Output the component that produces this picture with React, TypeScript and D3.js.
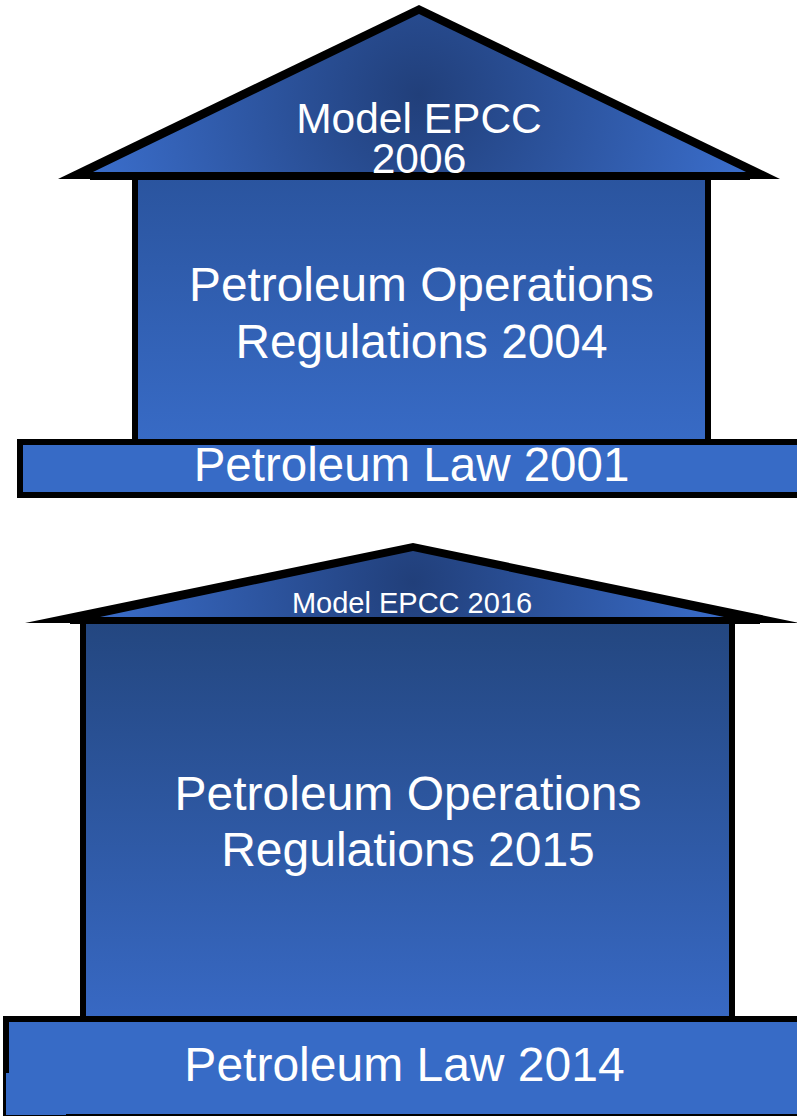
import React from "react";
import * as d3 from "d3";

const roofLabels: string[][] = [["Model EPCC", "2006"], ["Model EPCC 2016"]];
const bodyLabels: string[][] = [
  ["Petroleum Operations", "Regulations 2004"],
  ["Petroleum Operations", "Regulations 2015"],
];
const baseLabels: string[] = ["Petroleum Law 2001", "Petroleum Law 2014"];

// layout (pixels)
const houses = [
  {
    roofOuter: [[58, 179], [419, 5], [780, 179]],
    roofInner: [[93, 172], [419, 14], [746, 172]],
    roofBand: { x1: 90, x2: 750, y: 172, h: 8 },
    roofText: { x: 419, y: 133, size: 42.5, lh: 40 },
    body: { x: 132, y: 172, w: 579, h: 274 },
    bodyText: { x: 421.5, y: 301, size: 47.8, lh: 57 },
    bodyGrad: ["#2a549e", "#386bc6"],
    base: { x: 17, y: 439, w: 800, h: 59 },
    baseText: { x: 411.5, y: 481, size: 47.5 },
  },
  {
    roofOuter: [[25, 623], [413, 543], [800, 623]],
    roofInner: [[100, 617], [413, 551], [724, 617]],
    roofBand: { x1: 70, x2: 760, y: 617, h: 7 },
    roofText: { x: 412, y: 613, size: 29, lh: 0 },
    body: { x: 80, y: 617, w: 655, h: 405 },
    bodyText: { x: 408, y: 810, size: 48, lh: 56 },
    bodyGrad: ["#23467f", "#3869c4"],
    base: { x: 3, y: 1016, w: 800, h: 104 },
    baseText: { x: 404.5, y: 1081, size: 48 },
  },
];

const FONT = "'Liberation Sans', Arial, sans-serif";

export default function App() {
  const line = d3.line<number[]>().x((d) => d[0]).y((d) => d[1]).curve(d3.curveLinearClosed);
  return (
    <div style={{ position: "absolute", left: 0, top: 0 }}>
      <svg width={797} height={1116} style={{ display: "block" }}>
        <defs>
          <radialGradient id="roof0" gradientUnits="userSpaceOnUse" cx={419} cy={95} r={330}>
            <stop offset="0" stopColor="#213f7a" />
            <stop offset="1" stopColor="#3a6dca" />
          </radialGradient>
          <radialGradient id="roof1" gradientUnits="userSpaceOnUse" cx={413} cy={582} r={320}>
            <stop offset="0" stopColor="#213f7a" />
            <stop offset="1" stopColor="#3a6dca" />
          </radialGradient>
          {houses.map((h, i) => (
            <linearGradient key={i} id={`body${i}`} x1="0" y1="0" x2="0" y2="1">
              <stop offset="0" stopColor={h.bodyGrad[0]} />
              <stop offset="1" stopColor={h.bodyGrad[1]} />
            </linearGradient>
          ))}
        </defs>
        {houses.map((h, i) => (
          <g key={i}>
            {/* body */}
            <rect x={h.body.x} y={h.body.y} width={h.body.w} height={h.body.h} fill="#000" />
            <rect x={h.body.x + 6} y={h.body.y} width={h.body.w - 12} height={h.body.h} fill={`url(#body${i})`} />
            {/* roof */}
            <path d={line(h.roofOuter as number[][]) || ""} fill="#000" />
            <path d={line(h.roofInner as number[][]) || ""} fill={`url(#roof${i})`} />
            <rect x={h.roofBand.x1} y={h.roofBand.y} width={h.roofBand.x2 - h.roofBand.x1} height={h.roofBand.h} fill="#000" />
            {/* base */}
            <rect x={h.base.x} y={h.base.y} width={h.base.w} height={h.base.h} fill="#000" />
            <rect x={h.base.x + 6} y={h.base.y + 6} width={h.base.w} height={h.base.h - 12} fill="#376bc6" />
            {i === 1 && <rect x={6} y={1073} width={60} height={42} fill="#376bc6" />}
            {/* texts */}
            {roofLabels[i].map((t, j) => (
              <text key={`r${j}`} x={h.roofText.x} y={h.roofText.y + j * h.roofText.lh} textAnchor="middle"
                fontFamily={FONT} fontSize={h.roofText.size} fill="#fff">{t}</text>
            ))}
            {bodyLabels[i].map((t, j) => (
              <text key={`b${j}`} x={h.bodyText.x} y={h.bodyText.y + j * h.bodyText.lh} textAnchor="middle"
                fontFamily={FONT} fontSize={h.bodyText.size} fill="#fff">{t}</text>
            ))}
            <text x={h.baseText.x} y={h.baseText.y} textAnchor="middle" fontFamily={FONT}
              fontSize={h.baseText.size} fill="#fff">{baseLabels[i]}</text>
          </g>
        ))}
      </svg>
    </div>
  );
}
